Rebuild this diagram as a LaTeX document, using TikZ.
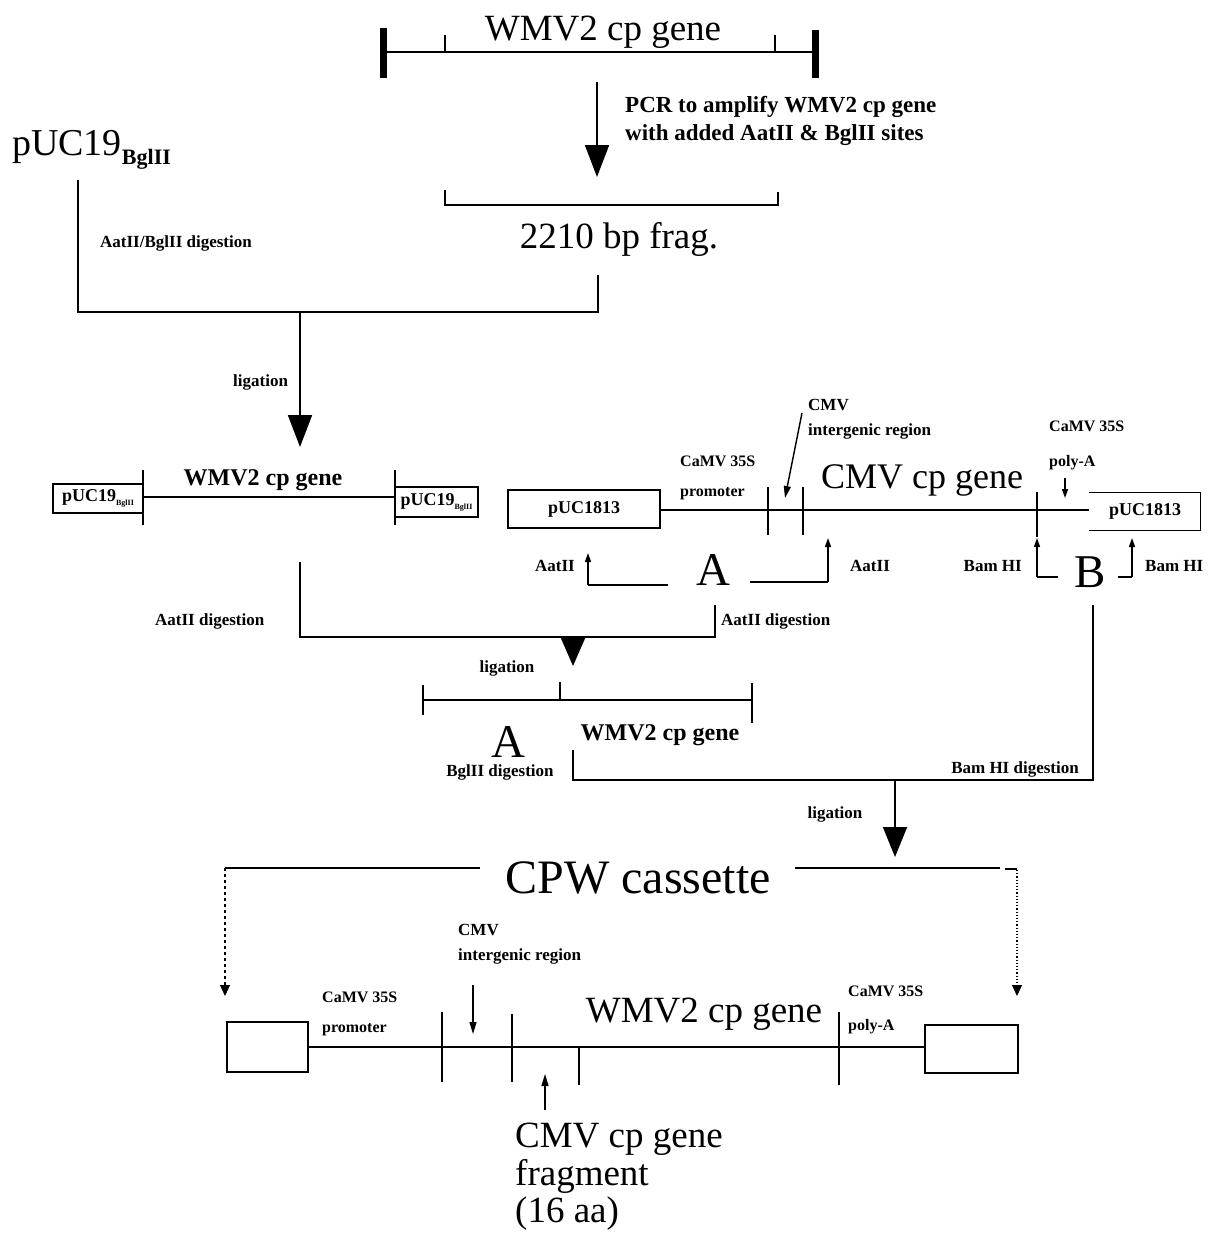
\documentclass[tikz,border=0pt]{standalone}
\usepackage{fontspec}
\setmainfont{Liberation Serif}
\usetikzlibrary{arrows.meta,positioning,calc}
\newcommand{\fbig}{\fontsize{37}{38}\selectfont}
\newcommand{\fhuge}{\fontsize{48}{50}\selectfont}
\newcommand{\fletter}{\fontsize{47}{48}\selectfont}
\newcommand{\fmid}{\fontsize{24}{26}\selectfont\bfseries}
\newcommand{\fpcr}{\fontsize{23}{28}\selectfont\bfseries}
\newcommand{\fsmall}{\fontsize{17}{20}\selectfont\bfseries}
\newcommand{\fvec}{\fontsize{18}{20}\selectfont\bfseries}
\newcommand{\bglsub}{\raisebox{-4pt}{\fontsize{8}{8}\selectfont BglII}}
\tikzset{gene/.style={line width=1.8pt},
  cutbar/.style={line width=1.6pt},
  endbar/.style={line width=7pt},
  flow/.style={line width=1.8pt,-{Triangle[length=32pt,width=24pt]}},
  site/.style={line width=1.5pt,-{Triangle[length=9pt,width=6pt]}},
  drop/.style={line width=1.2pt,-{Triangle[length=11pt,width=10pt]}},
  pointer/.style={line width=1.4pt,-{Triangle[length=12pt,width=7pt]}},
  vec/.style={line width=1.3pt,inner sep=0pt},
  lbl/.style={font=\fsmall,inner sep=0pt,anchor=base west},
  camv/.style={lbl,font=\fontsize{16}{20}\selectfont\bfseries},
  big/.style={font=\fbig,inner sep=0pt,anchor=base}}
\begin{document}
\begin{tikzpicture}[x=1pt,y=-1pt]
\useasboundingbox (0,0) rectangle (1209,1234);
\node[big] (wmvtop) at (603,40) {WMV2 cp gene};
\draw[gene] (383,52) -- (815,52);
\draw[endbar] (383,28) -- (383,78);
\draw[endbar] (815,30) -- (815,78);
\draw[cutbar] (445,35) -- (445,52);
\draw[cutbar] (775,35) -- (775,52);
\coordinate (pcrtop) at (597,82);
\coordinate (fragmid) at (597,177);
\draw[flow] (pcrtop) -- (fragmid);
\node[lbl,font=\fpcr] (pcr1) at (625,112) {PCR to amplify WMV2 cp gene};
\node[lbl,font=\fpcr] (pcr2) at (625,140) {with added AatII \& BglII sites};
\node[inner sep=0pt,anchor=base west,font=\fontsize{38}{40}\selectfont] (puc) at (12,155) {pUC19\raisebox{-9pt}{\fontsize{22}{22}\selectfont\bfseries BglII}};
\draw[gene] (445,190) -- (445,205) -- (778,205) -- (778,192);
\node[big] (frag) at (619,248) {2210 bp frag.};
\node[lbl] (dig1) at (100,247) {AatII/BglII digestion};
\coordinate (join1) at (300,312);
\draw[gene] (78,180) -- (78,312) -- (598,312) -- (598,275);
\draw[flow] (join1) -- (300,447);
\node[lbl] (lig1) at (233,386) {ligation};

\node[vec,draw,minimum width=90pt,minimum height=29pt,font=\fvec] (lpuc) at (98,498.5) {pUC19\bglsub};
\node[vec,draw,minimum width=83pt,minimum height=30pt,font=\fvec] (rpuc) at (436.5,502) {pUC19\bglsub};
\draw[gene] (lpuc.east |- 0,497) -- (rpuc.west |- 0,497);
\draw[cutbar] (143,470) -- (143,525);
\draw[cutbar] (395,470) -- (395,525);
\node[inner sep=0pt,anchor=base,font=\fmid] (wmvmid) at (263,485) {WMV2 cp gene};

\node[vec,draw,minimum width=152pt,minimum height=38pt,font=\fvec] (puca) at (584,509) {pUC1813};
\node[vec,minimum width=110pt,minimum height=37pt,font=\fvec] (pucb) at (1145,511.5) {\raisebox{-7pt}{pUC1813}};
\draw[vec] (pucb.north west) -- (pucb.north east) -- (pucb.south east) -- (pucb.south west);
\draw[gene] (puca.east |- 0,510) -- (pucb.west |- 0,510);
\draw[cutbar] (768,487) -- (768,535);
\draw[cutbar] (803,487) -- (803,535);
\draw[cutbar] (1037,492) -- (1037,537);
\node[camv] (camv1) at (680,466) {CaMV 35S};
\node[camv] (prom1) at (680,496) {promoter};
\node[lbl] (cmv1) at (808,410) {CMV};
\node[lbl] (ig1) at (808,435) {intergenic region};
\draw[pointer] (802,413) -- (785,498);
\node[big,font=\fontsize{36}{38}\selectfont] (cmvcp) at (922,488) {CMV cp gene};
\node[camv] (camv2) at (1049,431) {CaMV 35S};
\node[camv] (polya1) at (1049,466) {poly-A};
\draw[site] (1065,478) -- (1065,498);

\node[lbl,anchor=base east] (aat1) at (575,571) {AatII};
\draw[gene] (668,585) -- (588,585);
\draw[site] (588,585) -- (588,553);
\node[inner sep=0pt,anchor=base,font=\fletter] (fraga) at (713,585) {A};
\draw[gene] (750,582) -- (828,582);
\draw[site] (828,582) -- (828,538);
\node[lbl] (aat2) at (850,571) {AatII};
\node[lbl,anchor=base east] (bam1) at (1022,571) {Bam HI};
\draw[gene] (1058,577) -- (1037,577);
\draw[site] (1037,577) -- (1037,538);
\node[inner sep=0pt,anchor=base,font=\fletter] (fragb) at (1090,587) {B};
\draw[gene] (1118,577) -- (1132,577);
\draw[site] (1132,577) -- (1132,538);
\node[lbl] (bam2) at (1145,571) {Bam HI};

\coordinate (join2) at (573,637);
\draw[gene] (300,562) -- (300,637) -- (715,637) -- (715,605);
\draw[flow,-{Triangle[length=28pt,width=24pt]}] (join2) -- (573,666);
\node[lbl] (dig2) at (155,625) {AatII digestion};
\node[lbl] (dig3) at (721,625) {AatII digestion};
\node[lbl,anchor=base] (lig2) at (507,672) {ligation};
\draw[gene] (423,685) -- (423,715);
\draw[gene] (423,700) -- (752,700);
\draw[gene] (560,682) -- (560,700);
\draw[gene] (752,683) -- (752,723);
\node[inner sep=0pt,anchor=base,font=\fletter] (fraga2) at (508,757) {A};
\node[inner sep=0pt,anchor=base,font=\fmid] (wmvlow) at (660,740) {WMV2 cp gene};
\node[lbl,anchor=base] (dig4) at (500,776) {BglII digestion};

\coordinate (join3) at (895,780);
\draw[gene] (1093,605) -- (1093,780) -- (573,780) -- (573,750);
\node[lbl,anchor=base] (dig5) at (1015,773) {Bam HI digestion};
\draw[flow,-{Triangle[length=30pt,width=24pt]}] (join3) -- (895,857);
\node[lbl,anchor=base] (lig3) at (835,818) {ligation};

\node[big,font=\fhuge] (cpw) at (638,893) {CPW cassette};
\draw[line width=1.2pt] (480,868) -- (225,868);
\draw[drop,dashed] (225,868) -- (225,996);
\draw[line width=1.2pt] (795,868) -- (1000,868);
\draw[line width=1.2pt] (1005,869) -- (1017,869);
\draw[drop,dotted] (1017,870) -- (1017,996);

\node[vec,draw,minimum width=81pt,minimum height=50pt] (cpwl) at (267.5,1047) {};
\node[vec,draw,minimum width=93pt,minimum height=48pt] (cpwr) at (971.5,1049) {};
\draw[gene] (cpwl.east |- 0,1047) -- (cpwr.west |- 0,1047);
\draw[cutbar] (442,1012) -- (442,1082);
\draw[cutbar] (512,1014) -- (512,1082);
\draw[cutbar] (579,1047) -- (579,1085);
\draw[cutbar] (839,1012) -- (839,1085);
\node[camv] (camv3) at (322,1002) {CaMV 35S};
\node[camv] (prom2) at (322,1032) {promoter};
\node[lbl] (cmv2) at (458,935) {CMV};
\node[lbl] (ig2) at (458,960) {intergenic region};
\draw[pointer] (473,985) -- (473,1034);
\node[big] (wmvcpw) at (704,1022) {WMV2 cp gene};
\node[camv] (camv4) at (848,996) {CaMV 35S};
\node[camv] (polya2) at (848,1030) {poly-A};
\draw[pointer] (545,1110) -- (545,1074);
\node[big,anchor=base west] (cmvfr1) at (515,1147) {CMV cp gene};
\node[big,anchor=base west] (cmvfr2) at (515,1185) {fragment};
\node[big,anchor=base west] (cmvfr3) at (515,1222) {(16 aa)};
\end{tikzpicture}
\end{document}
